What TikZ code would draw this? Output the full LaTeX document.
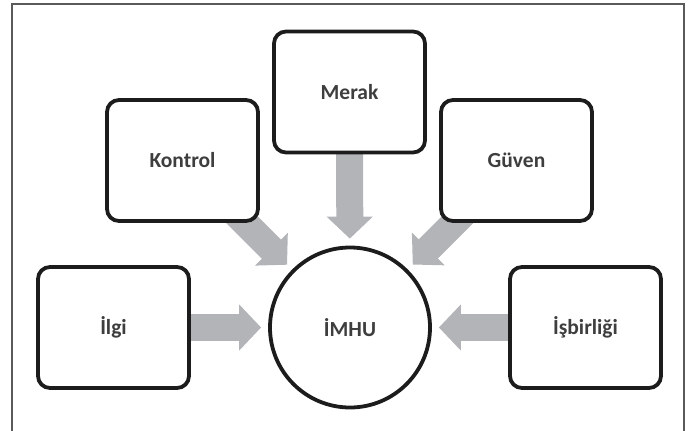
\documentclass[tikz,border=0pt]{standalone}
\usepackage{fontspec}
\setmainfont{Carlito}
\usetikzlibrary{arrows.meta}
\pgfdeclarelayer{background}
\pgfsetlayers{background,main}
\definecolor{arrowgray}{HTML}{B2B4B7}
\definecolor{inkblack}{HTML}{1C1C1C}
\definecolor{framegray}{HTML}{5A5A5A}
\tikzset{
  conceptbox/.style={draw=inkblack, line width=3.8pt, fill=white, rounded corners=12pt,
    minimum width=151pt, minimum height=121pt, inner sep=0pt,
    font=\fontsize{21.5}{24}\selectfont\bfseries, text=inkblack!85},
  centercircle/.style={draw=inkblack, line width=3.8pt, fill=white, circle,
    minimum size=160pt, inner sep=0pt,
    font=\fontsize{21.5}{24}\selectfont\bfseries, text=inkblack!85},
  bigarrow/.style={draw=arrowgray, line width=27pt,
    -{Triangle[length=22pt,width=45pt]}, shorten >=7pt}
}
\begin{document}
\begin{tikzpicture}[x=1pt,y=-1pt]
\useasboundingbox (0,0) rectangle (688,431);
\draw[framegray, line width=1.3pt] (12,431) -- (12,4) -- (684,4) -- (684,431);

\node[centercircle] (imhu) at (350,327.5) {İMHU};
\node[conceptbox] (merak) at (349.5,92) {Merak};
\node[conceptbox] (kontrol) at (182.5,160.5) {Kontrol};
\node[conceptbox] (guven) at (516.5,160.5) {Güven};
\node[conceptbox] (ilgi) at (113.5,327.5) {İlgi};
\node[conceptbox] (isbirligi) at (585.5,327.5) {İşbirliği};

\begin{pgfonlayer}{background}
\draw[bigarrow] (merak.center) -- (imhu);
\draw[bigarrow] (kontrol.center) -- (imhu);
\draw[bigarrow] (guven.center) -- (imhu);
\draw[bigarrow] (ilgi.center) -- (imhu);
\draw[bigarrow] (isbirligi.center) -- (imhu);
\end{pgfonlayer}
\end{tikzpicture}
\end{document}
